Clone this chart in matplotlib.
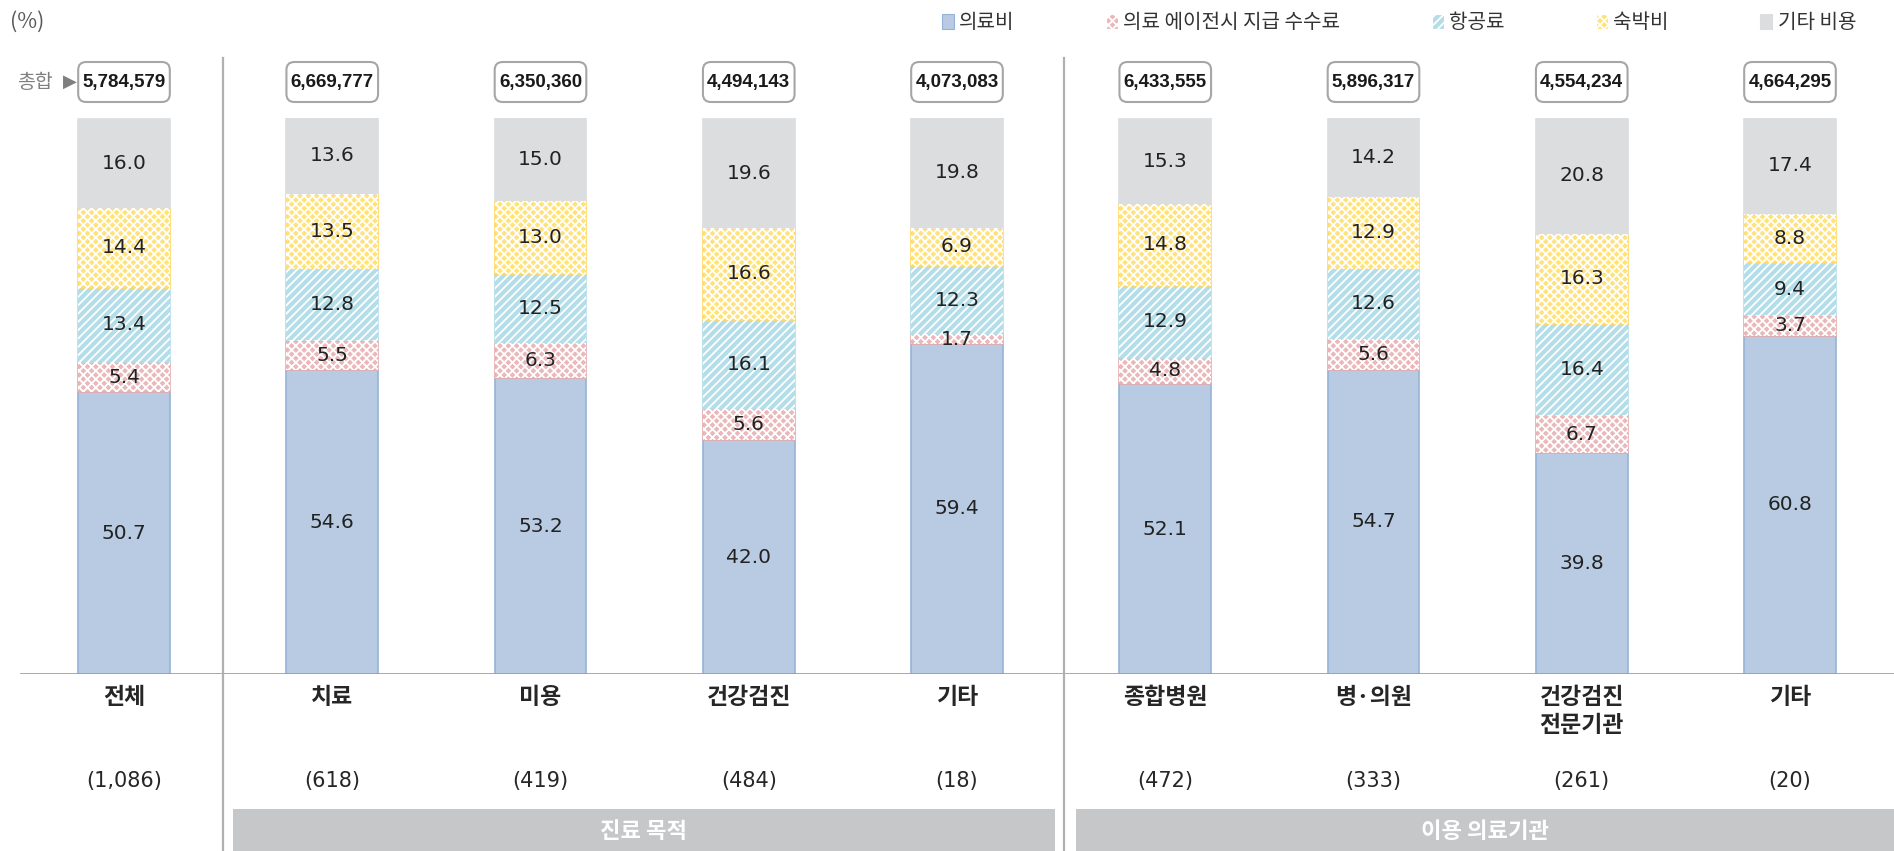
import numpy as np
import matplotlib
matplotlib.use("Agg")
import matplotlib.pyplot as plt
from matplotlib.patches import Patch, FancyBboxPatch, Rectangle
from matplotlib.lines import Line2D
import matplotlib.transforms as mtransforms

plt.rcParams['font.family'] = ['Noto Sans CJK KR', 'DejaVu Sans']
plt.rcParams['hatch.linewidth'] = 1.3

# data
categories = ['전체', '치료', '미용', '건강검진', '기타',
              '종합병원', '병·의원', '건강검진\n전문기관', '기타']
counts = ['(1,086)', '(618)', '(419)', '(484)', '(18)',
          '(472)', '(333)', '(261)', '(20)']
totals = ['5,784,579', '6,669,777', '6,350,360', '4,494,143', '4,073,083',
          '6,433,555', '5,896,317', '4,554,234', '4,664,295']
series_names = ['의료비', '의료 에이전시 지급 수수료', '항공료', '숙박비', '기타 비용']
medical = [50.7, 54.6, 53.2, 42.0, 59.4, 52.1, 54.7, 39.8, 60.8]
agency_fee = [5.4, 5.5, 6.3, 5.6, 1.7, 4.8, 5.6, 6.7, 3.7]
airfare = [13.4, 12.8, 12.5, 16.1, 12.3, 12.9, 12.6, 16.4, 9.4]
lodging = [14.4, 13.5, 13.0, 16.6, 6.9, 14.8, 12.9, 16.3, 8.8]
other = [16.0, 13.6, 15.0, 19.6, 19.8, 15.3, 14.2, 20.8, 17.4]
group_names = ['진료 목적', '이용 의료기관']

series = [medical, agency_fee, airfare, lodging, other]
faces = ['#b8cbe3', '#eab8ba', '#b3dde8', '#ffe27a', '#dcdddf']
edges = ['#95b3d7', '#e6aeb0', '#b3dde8', '#ffd966', '#dcdddf']
hatches = [None, 'xxxx', '////', 'xxxx', None]

W, H = 1894, 851
fig = plt.figure(figsize=(W / 100, H / 100), dpi=100)
base_px, top_px = 674, 118
ax = fig.add_axes([0, 1 - base_px / H, 1, (base_px - top_px) / H])
x = np.arange(len(categories))
px_per_unit = 208.25
ax.set_xlim(-124 / px_per_unit, (W - 124) / px_per_unit)
ax.set_ylim(0, 100)
ax.axis('off')


def fy(px):
    return 1 - px / H


bt = mtransforms.blended_transform_factory(ax.transData, fig.transFigure)

bottom = np.zeros(len(categories))
bw = 0.44
for vals, fc, ec, h in zip(series, faces, edges, hatches):
    vals = np.array(vals)
    ax.bar(x, vals, bottom=bottom, width=bw, color=fc, edgecolor=ec, lw=1.2, zorder=2)
    if h:
        ax.bar(x, vals, bottom=bottom, width=bw, facecolor='none', edgecolor='white',
               hatch=h, lw=0, zorder=3)
    for xi, v, b in zip(x, vals, bottom):
        ax.text(xi, b + v / 2, f'{v:.1f}', ha='center', va='center',
                fontsize=14.5, color='#222222', family=['DejaVu Sans'], zorder=5)
    bottom += vals

# baseline
ax.axhline(0, xmin=21 / W, xmax=1, color='#a0a0a0', lw=2, zorder=4)

# separators
for sx in [0.475, 4.515]:
    fig.add_artist(Line2D([sx, sx], [fy(58), 0], transform=bt, color='#b0b0b0', lw=1.6))

# total boxes
for xi, t in zip(x, totals):
    box = FancyBboxPatch((xi - 0.22, fy(102)), 0.44, (102 - 62) / H,
                         boxstyle='round,pad=0,rounding_size=%.4f' % (8 / px_per_unit),
                         mutation_aspect=px_per_unit / H,
                         transform=bt, facecolor='white', edgecolor='#a6a6a6', lw=1.5)
    fig.add_artist(box)
    fig.text(xi, fy(83), t, transform=bt, ha='center', va='center', fontsize=13.5,
             fontweight='bold', family=['Liberation Sans', 'DejaVu Sans'],
             color='#1a1a1a')

fig.text(17 / W, fy(82), '총합', ha='left', va='center', fontsize=14, color='#7f7f7f')
fig.text(63 / W, fy(82), '▶', ha='left', va='center', fontsize=13, color='#7f7f7f',
         family=['DejaVu Sans'])

# category labels and counts
for xi, c, n in zip(x, categories, counts):
    fig.text(xi, fy(686), c, transform=bt, ha='center', va='top', fontsize=16.5,
             fontweight='bold', color='#262626', linespacing=1.3)
    fig.text(xi, fy(781), n, transform=bt, ha='center', va='center', fontsize=15,
             color='#262626', family=['DejaVu Sans'])

# group bars
for (l, r), g in zip([(233, 1055), (1076, W)], group_names):
    fig.add_artist(Rectangle((l / W, 0), (r - l) / W, fy(809), transform=fig.transFigure,
                             facecolor='#c6c7c9', edgecolor='none'))
    fig.text((l + r) / 2 / W, fy(831), g, ha='center', va='center', fontsize=16,
             fontweight='bold', color='white')

fig.text(10 / W, fy(22), '(%)', ha='left', va='center', fontsize=15.5, color='#595959')

# legend
handles = [Patch(facecolor=fc, edgecolor=(ec if h is None else 'white'), hatch=h, lw=0.8)
           for fc, ec, h in zip(faces, edges, hatches)]
fig.legend(handles, series_names, loc='center right', bbox_to_anchor=(1856 / W, fy(23)),
           ncol=5, frameon=False, fontsize=14.5, handlelength=0.6, handleheight=0.7,
           handletextpad=0.25, columnspacing=4.55, labelcolor='#333333',
           borderpad=0, borderaxespad=0)

fig.savefig('out.png', dpi=100)
